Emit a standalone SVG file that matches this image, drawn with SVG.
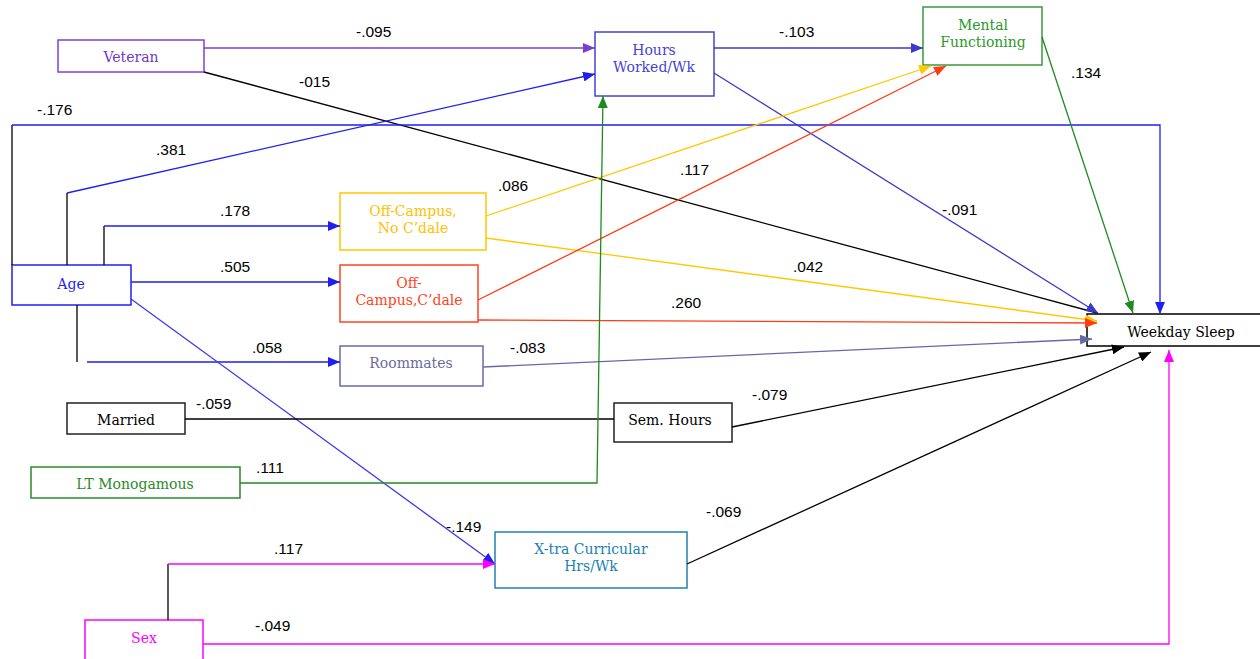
<svg xmlns="http://www.w3.org/2000/svg" width="1260" height="659" viewBox="0 0 1260 659">
<style>
.box{fill:#fff;stroke-width:1.5}
.lbl{font-family:"DejaVu Serif","Liberation Serif",serif;font-size:14px;text-anchor:middle}
.num{font-family:"Liberation Sans",Arial,sans-serif;font-size:15.5px;fill:#000}
.c{fill:none;stroke-width:1.3}
</style>
<defs>
<marker id="aPur" markerWidth="12" markerHeight="10" refX="12" refY="5" orient="auto" markerUnits="userSpaceOnUse"><path d="M0,0L12,5L0,10z" fill="#7b3fd0"/></marker>
<marker id="aBlue" markerWidth="12" markerHeight="10" refX="12" refY="5" orient="auto" markerUnits="userSpaceOnUse"><path d="M0,0L12,5L0,10z" fill="#1f1ff0"/></marker>
<marker id="aHw" markerWidth="12" markerHeight="10" refX="12" refY="5" orient="auto" markerUnits="userSpaceOnUse"><path d="M0,0L12,5L0,10z" fill="#3a3ac8"/></marker>
<marker id="aGrn" markerWidth="12" markerHeight="10" refX="12" refY="5" orient="auto" markerUnits="userSpaceOnUse"><path d="M0,0L12,5L0,10z" fill="#1f8a1f"/></marker>
<marker id="aYel" markerWidth="12" markerHeight="10" refX="12" refY="5" orient="auto" markerUnits="userSpaceOnUse"><path d="M0,0L12,5L0,10z" fill="#ffc800"/></marker>
<marker id="aRed" markerWidth="12" markerHeight="10" refX="12" refY="5" orient="auto" markerUnits="userSpaceOnUse"><path d="M0,0L12,5L0,10z" fill="#ff3c14"/></marker>
<marker id="aSl" markerWidth="12" markerHeight="10" refX="12" refY="5" orient="auto" markerUnits="userSpaceOnUse"><path d="M0,0L12,5L0,10z" fill="#6868a8"/></marker>
<marker id="aBlk" markerWidth="12" markerHeight="10" refX="12" refY="5" orient="auto" markerUnits="userSpaceOnUse"><path d="M0,0L12,5L0,10z" fill="#000"/></marker>
<marker id="aMag" markerWidth="12" markerHeight="10" refX="12" refY="5" orient="auto" markerUnits="userSpaceOnUse"><path d="M0,0L12,5L0,10z" fill="#ff00ff"/></marker>
</defs>
<rect width="1260" height="659" fill="#fff"/>
<g id="veteran"><rect class="box" x="58" y="40" width="146" height="32" stroke="#8040d8"/><text class="lbl" x="131" y="62" fill="#7038c8">Veteran</text></g>
<g id="hours"><rect class="box" x="595" y="32" width="119" height="64" stroke="#4444d0"/><text class="lbl" x="654" y="55" fill="#4444d0">Hours</text><text class="lbl" x="654" y="72" fill="#4444d0">Worked/Wk</text></g>
<g id="mental"><rect class="box" x="923" y="7" width="119" height="58" stroke="#3a9a3a"/><text class="lbl" x="983" y="30" fill="#2a9a2a">Mental</text><text class="lbl" x="983" y="47" fill="#2a9a2a">Functioning</text></g>
<g id="age"><rect class="box" x="12" y="265" width="119" height="40" stroke="#2020f0"/><text class="lbl" x="71" y="289" fill="#1f1ff0">Age</text></g>
<g id="offnocdale"><rect class="box" x="340" y="193" width="146" height="57" stroke="#ffc800"/><text class="lbl" x="413" y="216" fill="#ffc000">Off-Campus,</text><text class="lbl" x="413" y="233" fill="#ffc000">No C’dale</text></g>
<g id="offcdale"><rect class="box" x="340" y="265" width="138" height="57" stroke="#ff4420"/><text class="lbl" x="409" y="288" fill="#ff4420">Off-</text><text class="lbl" x="409" y="305" fill="#ff4420">Campus,C’dale</text></g>
<g id="roommates"><rect class="box" x="340" y="346" width="143" height="40" stroke="#6a6aa8"/><text class="lbl" x="411" y="368" fill="#6a6aa0">Roommates</text></g>
<g id="married"><rect class="box" x="67" y="403" width="118" height="31" stroke="#222"/><text class="lbl" x="126" y="425" fill="#000">Married</text></g>
<g id="semhours"><rect class="box" x="614" y="403" width="118" height="39" stroke="#222"/><text class="lbl" x="670" y="425" fill="#000">Sem. Hours</text></g>
<g id="ltmono"><rect class="box" x="31" y="467" width="209" height="31" stroke="#2a8a2a"/><text class="lbl" x="135" y="489" fill="#2a8a2a">LT Monogamous</text></g>
<g id="xtra"><rect class="box" x="495" y="532" width="192" height="56" stroke="#2080b0"/><text class="lbl" x="591" y="554" fill="#2080b0">X-tra Curricular</text><text class="lbl" x="591" y="571" fill="#2080b0">Hrs/Wk</text></g>
<g id="sex"><rect class="box" x="85" y="620" width="118" height="45" stroke="#ff00ff"/><text class="lbl" x="144" y="643" fill="#ff00ff">Sex</text></g>
<g id="weekday"><rect class="box" x="1087" y="314" width="180" height="32" stroke="#000"/><text class="lbl" x="1181" y="337" fill="#000">Weekday Sleep</text></g>
<g id="connectors">
<line class="c" x1="204" y1="48" x2="595" y2="48" stroke="#7b3fd0" marker-end="url(#aPur)"/>
<line class="c" x1="204" y1="72" x2="1097" y2="313" stroke="#000"/>
<polyline class="c" points="12,265 12,125" stroke="#000"/>
<polyline class="c" points="12,125 1160,125 1160,314" stroke="#1f1ff0" marker-end="url(#aBlue)"/>
<polyline class="c" points="67,265 67,193" stroke="#000"/>
<line class="c" x1="67" y1="193" x2="595" y2="74" stroke="#1f1ff0" marker-end="url(#aBlue)"/>
<polyline class="c" points="104,265 104,226" stroke="#000"/>
<line class="c" x1="104" y1="226" x2="340" y2="226" stroke="#1f1ff0" marker-end="url(#aBlue)"/>
<line class="c" x1="131" y1="282" x2="340" y2="282" stroke="#1f1ff0" marker-end="url(#aBlue)"/>
<line class="c" x1="77" y1="305" x2="77" y2="362" stroke="#000"/>
<line class="c" x1="87" y1="362" x2="340" y2="362" stroke="#1f1ff0" marker-end="url(#aBlue)"/>
<line class="c" x1="131" y1="299" x2="495" y2="564" stroke="#3a3af0" stroke-width="1" marker-end="url(#aBlue)"/>
<line class="c" x1="714" y1="48" x2="923" y2="48" stroke="#3a3ac8" marker-end="url(#aHw)"/>
<line class="c" x1="714" y1="73" x2="1098" y2="313" stroke="#3a3ac8" stroke-width="1" marker-end="url(#aHw)"/>
<line class="c" x1="1042" y1="37" x2="1133" y2="313" stroke="#1f8a1f" marker-end="url(#aGrn)"/>
<line class="c" x1="486" y1="216" x2="931" y2="66" stroke="#ffc800" marker-end="url(#aYel)"/>
<line class="c" x1="486" y1="238" x2="1097" y2="321" stroke="#ffc800" marker-end="url(#aYel)"/>
<line class="c" x1="478" y1="300" x2="946" y2="66" stroke="#ff3c14" marker-end="url(#aRed)"/>
<line class="c" x1="478" y1="320" x2="1097" y2="323" stroke="#ff3c14" marker-end="url(#aRed)"/>
<line class="c" x1="483" y1="367" x2="1092" y2="339" stroke="#6868a8" marker-end="url(#aSl)"/>
<line class="c" x1="185" y1="419" x2="614" y2="419" stroke="#000"/>
<line class="c" x1="732" y1="427" x2="1124" y2="347" stroke="#000" marker-end="url(#aBlk)"/>
<polyline class="c" points="240,483 597,483 603,96" stroke="#1f8a1f" marker-end="url(#aGrn)"/>
<line class="c" x1="687" y1="564" x2="1151" y2="352" stroke="#000" marker-end="url(#aBlk)"/>
<line class="c" x1="168" y1="620" x2="168" y2="564" stroke="#000"/>
<line class="c" x1="168" y1="564" x2="495" y2="564" stroke="#ff00ff" marker-end="url(#aMag)"/>
<polyline class="c" points="203,644 1169,644 1169,350" stroke="#ff00ff" marker-end="url(#aMag)"/>
</g>
<g id="labels">
<text class="num" x="356" y="37">-.095</text>
<text class="num" x="299" y="87">-015</text>
<text class="num" x="37" y="115">-.176</text>
<text class="num" x="156" y="155">.381</text>
<text class="num" x="220" y="216">.178</text>
<text class="num" x="220" y="272">.505</text>
<text class="num" x="252" y="353">.058</text>
<text class="num" x="446" y="532">-.149</text>
<text class="num" x="779" y="37">-.103</text>
<text class="num" x="942" y="215">-.091</text>
<text class="num" x="1071" y="78">.134</text>
<text class="num" x="498" y="191">.086</text>
<text class="num" x="793" y="272">.042</text>
<text class="num" x="680" y="175">.117</text>
<text class="num" x="671" y="308">.260</text>
<text class="num" x="510" y="353">-.083</text>
<text class="num" x="196" y="409">-.059</text>
<text class="num" x="752" y="400">-.079</text>
<text class="num" x="256" y="473">.111</text>
<text class="num" x="706" y="517">-.069</text>
<text class="num" x="274" y="554">.117</text>
<text class="num" x="255" y="631">-.049</text>
</g>
</svg>
